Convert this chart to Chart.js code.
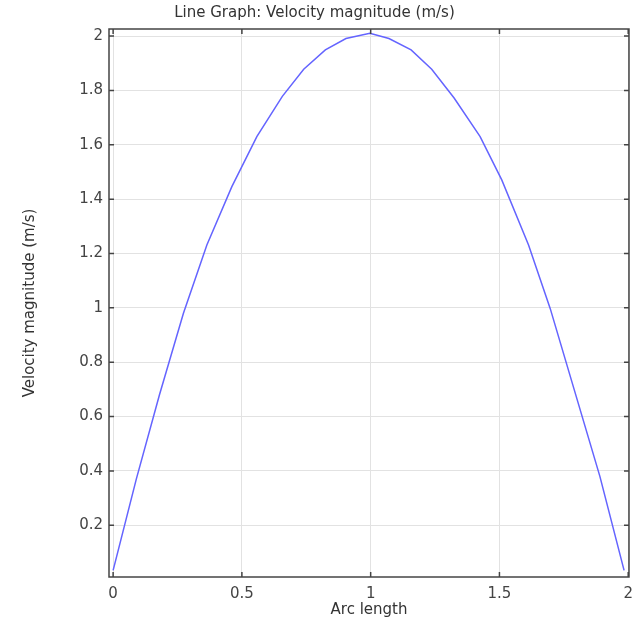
<!DOCTYPE html>
<html>
<head>
<meta charset="utf-8">
<script src="https://cdn.jsdelivr.net/npm/chart.js@4"></script>
<style>
  html, body { margin: 0; padding: 0; background: #fff; }
  #wrap { width: 641px; height: 623px; }
</style>
</head>
<body>
<div id="wrap"><canvas id="chartVelocity"></canvas></div>
<script>
// Valores
const arcLength = [0.0, 0.09, 0.18, 0.273, 0.364, 0.461, 0.558, 0.657, 0.74, 0.824, 0.904, 0.997,
                   1.071, 1.157, 1.237, 1.324, 1.425, 1.509, 1.613, 1.697, 1.79, 1.89, 1.984];
const velocity = [0.034, 0.37, 0.68, 0.98, 1.231, 1.446, 1.630, 1.778, 1.878, 1.949, 1.991, 2.010,
                  1.991, 1.949, 1.878, 1.772, 1.630, 1.471, 1.231, 0.998, 0.70, 0.38, 0.034];
const xTicks = [0, 0.5, 1, 1.5, 2];
const yTicks = [0.2, 0.4, 0.6, 0.8, 1, 1.2, 1.4, 1.6, 1.8, 2];

const FONT = 'DejaVu Sans';

// Caixa em volta do gráfico + ticks para dentro
const frameBox = {
    id: 'frameBox',
    afterDraw(chart) {
        const { ctx, chartArea: a, scales } = chart;
        const len = 5;
        ctx.save();
        ctx.strokeStyle = '#444';
        ctx.lineWidth = 1.5;
        ctx.beginPath();
        xTicks.forEach(v => {
            const px = scales.x.getPixelForValue(v);
            ctx.moveTo(px, a.bottom); ctx.lineTo(px, a.bottom - len);
            ctx.moveTo(px, a.top); ctx.lineTo(px, a.top + len);
        });
        yTicks.forEach(v => {
            const py = scales.y.getPixelForValue(v);
            ctx.moveTo(a.left, py); ctx.lineTo(a.left + len, py);
            ctx.moveTo(a.right, py); ctx.lineTo(a.right - len, py);
        });
        ctx.stroke();
        ctx.strokeRect(a.left, a.top, a.right - a.left, a.bottom - a.top);
        ctx.restore();
    }
};

new Chart(document.getElementById('chartVelocity'), {
    type: 'line',
    data: {
        datasets: [{
            label: 'Velocity magnitude',
            data: arcLength.map((x, i) => ({ x: x, y: velocity[i] })),
            borderColor: 'rgb(100, 100, 255)',
            borderWidth: 1.5,
            pointRadius: 0,
            tension: 0,
            fill: false
        }]
    },
    options: {
        responsive: true,
        maintainAspectRatio: false,
        animation: false,
        layout: { padding: { left: 0, right: 12, top: 0, bottom: 0 } },
        plugins: {
            legend: { display: false },
            tooltip: { enabled: false },
            title: {
                display: true,
                text: 'Line Graph: Velocity magnitude (m/s)',
                color: '#333',
                font: { family: FONT, size: 15, weight: 'normal' },
                padding: { top: 4, bottom: 7 }
            }
        },
        scales: {
            x: {
                type: 'linear',
                min: -0.016,
                max: 2.003,
                afterBuildTicks: s => { s.ticks = xTicks.map(v => ({ value: v })); },
                afterFit: s => { s.height = 46; },
                grid: { color: '#e2e2e2', drawTicks: false },
                border: { display: false },
                ticks: {
                    color: '#444',
                    padding: 8,
                    maxRotation: 0,
                    font: { family: FONT, size: 15 },
                    callback: v => String(v)
                },
                title: {
                    display: true,
                    text: 'Arc length',
                    color: '#333',
                    font: { family: FONT, size: 15 },
                    padding: { top: 0, bottom: 4 }
                }
            },
            y: {
                min: 0.0097,
                max: 2.026,
                afterBuildTicks: s => { s.ticks = yTicks.map(v => ({ value: v })); },
                afterFit: s => { s.width = 109; },
                grid: { color: '#e2e2e2', drawTicks: false },
                border: { display: false },
                ticks: {
                    color: '#444',
                    padding: 6,
                    font: { family: FONT, size: 15 },
                    callback: v => String(v)
                },
                title: {
                    display: true,
                    text: 'Velocity magnitude (m/s)',
                    color: '#333',
                    font: { family: FONT, size: 15 },
                    padding: { top: 21, bottom: 0 }
                }
            }
        }
    },
    plugins: [frameBox]
});
</script>
</body>
</html>
